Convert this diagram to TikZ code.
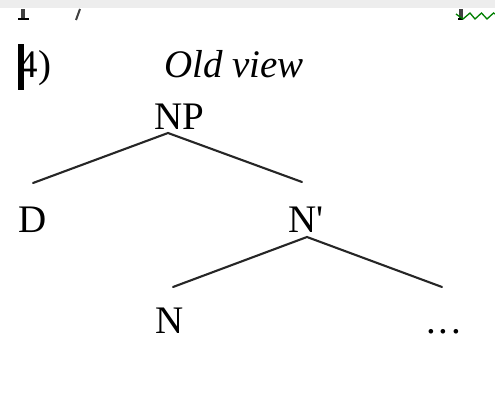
\documentclass[tikz,border=0pt]{standalone}
\usepackage{fontspec}
\setmainfont{Liberation Serif}
\begin{document}
\begin{tikzpicture}[x=1pt,y=-1pt,
  lbl/.style={inner sep=0pt,outer sep=0pt,font=\fontsize{39}{46}\selectfont},
  branch/.style={line width=2.1pt,draw=black!85,line cap=round}]
\useasboundingbox (0,0) rectangle (495,401);
\fill[white] (0,0) rectangle (495,401);
% top grey band and cropped fragments
\fill[black!7] (0,0) rectangle (495,8);
\fill[black!75] (21,9) rectangle (25,18);
\fill[black] (18,18) rectangle (29,20);
\draw[line width=2pt,black!75] (80,9) -- (76,20);
\fill[black!75] (459,9) rectangle (463,18);
\fill[black] (458,18) rectangle (463,20);
\draw[line width=1.3pt,green!50!black] (456,14) -- (463,19) -- (470,13) -- (475,19) -- (481.5,13) -- (487,19) -- (493.5,13) -- (495,14);
% labels
\node[lbl,anchor=base east] (num) at (51,78) {4)};
\fill[black] (18,44) rectangle (24,90);
\node[lbl,anchor=base west] (title) at (164,78) {\itshape Old view};
\node[lbl,anchor=base] (NP) at (179,130) {NP};
\node[lbl,anchor=base west] (D) at (18,232) {D};
\node[lbl,anchor=base west] (Nbar) at (288,232) {N\textquotesingle};
\node[lbl,anchor=base west] (N) at (155,333) {N};
\node[lbl,anchor=base west] (dots) at (426,333) {.\kern2.8pt.\kern2.8pt.};
% branch end points
\coordinate (NPfoot) at (168,133);
\coordinate (Dtop) at (33,183);
\coordinate (Nbartop) at (302,182);
\coordinate (Nbarfoot) at (307,237);
\coordinate (Ntop) at (173,287);
\coordinate (dotstop) at (442,287);
\draw[branch] (Dtop) -- (NPfoot) -- (Nbartop);
\draw[branch] (Ntop) -- (Nbarfoot) -- (dotstop);
\end{tikzpicture}
\end{document}
